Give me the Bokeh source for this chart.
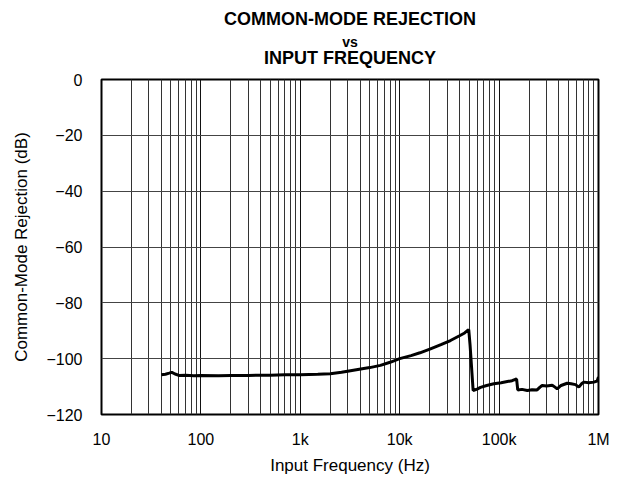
from bokeh.plotting import figure
from bokeh.models import FixedTicker, Title
from bokeh.embed import file_html
from bokeh.resources import INLINE

# Data
freq_hz = [40, 44, 48, 51, 55, 60, 70, 85, 100, 150, 200, 300, 500, 700, 1000,
           1500, 2000, 2600, 3200, 4200, 5000, 6400, 8000, 10000, 13000, 16000,
           20400, 26000, 32400, 40000, 45000, 47700, 49500, 51000, 54800,
           60000, 65000, 75000, 88500, 105000, 121000, 135000, 146000, 150000,
           154000, 170000, 192000, 215000, 241000, 258000, 271000, 300000,
           342000, 365000, 384000, 420000, 484000, 530000, 587000, 634000,
           680000, 711000, 800000, 897000, 970000, 1000000]
cmr_db = [-105.8, -105.6, -105.2, -104.9, -105.5, -106.0, -105.9, -106.1, -106.0,
          -106.1, -106.0, -106.0, -105.9, -105.8, -105.8,
          -105.6, -105.4, -104.9, -104.3, -103.6, -103.2, -102.4, -101.3, -100.0,
          -98.9, -97.9, -96.5, -95.0, -93.5, -91.8, -90.8, -90.0, -89.6, -95.0, -111.4,
          -110.9, -110.3, -109.6, -109.0, -108.6, -108.2, -107.9, -107.4, -107.3,
          -111.2, -111.0, -111.4, -111.1, -111.2, -110.2, -109.6, -109.8,
          -109.5, -110.2, -110.8, -109.6, -108.8, -109.0, -109.3, -110.2,
          -108.9, -108.4, -108.6, -108.4, -108.0, -106.6]

x_ticks = [10, 100, 1000, 10000, 100000, 1000000]
x_tick_labels = ["10", "100", "1k", "10k", "100k", "1M"]
x_minor = [m * d for d in [10, 100, 1000, 10000, 100000] for m in range(2, 10)]
y_ticks = [-120, -100, -80, -60, -40, -20, 0]
y_tick_labels = ["\u2212120", "\u2212100", "\u221280", "\u221260", "\u221240", "\u221220", "0"]

FONT = "Liberation Sans"

p = figure(frame_width=497, frame_height=335, x_axis_type="log",
           x_range=(10, 1000000), y_range=(-120, 0),
           output_backend="svg", toolbar_location=None,
           min_border_left=101, min_border_right=16, min_border_top=79, min_border_bottom=20,
           background_fill_color="white", border_fill_color="white")

p.line(freq_hz, cmr_db, line_color="black", line_width=3)

p.outline_line_color = "black"
p.outline_line_width = 2

p.xaxis.ticker = FixedTicker(ticks=x_ticks, minor_ticks=x_minor)
p.xaxis.major_label_overrides = {float(t): l for t, l in zip(x_ticks, x_tick_labels)}
p.yaxis.ticker = FixedTicker(ticks=y_ticks)
p.yaxis.major_label_overrides = {float(t): l for t, l in zip(y_ticks, y_tick_labels)}

for ax in (p.xaxis, p.yaxis):
    ax.axis_line_color = None
    ax.major_tick_line_color = None
    ax.minor_tick_line_color = None
    ax.major_label_text_font = FONT
    ax.major_label_text_font_size = "16px"
    ax.major_label_text_color = "black"
    ax.axis_label_text_font = FONT
    ax.axis_label_text_font_size = "17px"
    ax.axis_label_text_font_style = "normal"
    ax.axis_label_text_color = "black"

p.xaxis.axis_label = "Input Frequency (Hz)"
p.yaxis.axis_label = "Common-Mode Rejection (dB)"
p.xaxis.major_label_standoff = 10
p.yaxis.major_label_standoff = 13
p.xaxis.axis_label_standoff = 5
p.yaxis.axis_label_standoff = 12

p.xgrid.grid_line_color = "#111111"
p.xgrid.grid_line_width = 1
p.xgrid.minor_grid_line_color = "#333333"
p.xgrid.minor_grid_line_width = 1
p.ygrid.grid_line_color = "#444444"
p.ygrid.grid_line_width = 1

p.title = None
p.add_layout(Title(text="INPUT FREQUENCY", align="center", text_font=FONT,
                   text_font_size="18px", text_font_style="bold",
                   standoff=23, text_color="black"), "above")
p.add_layout(Title(text="vs", align="center", text_font=FONT,
                   text_font_size="14px", text_font_style="bold",
                   standoff=-30, text_color="black"), "above")
p.add_layout(Title(text="COMMON-MODE REJECTION", align="center", text_font=FONT,
                   text_font_size="18px", text_font_style="bold",
                   standoff=11, text_color="black"), "above")

open("out.html", "w").write(file_html(p, INLINE))
